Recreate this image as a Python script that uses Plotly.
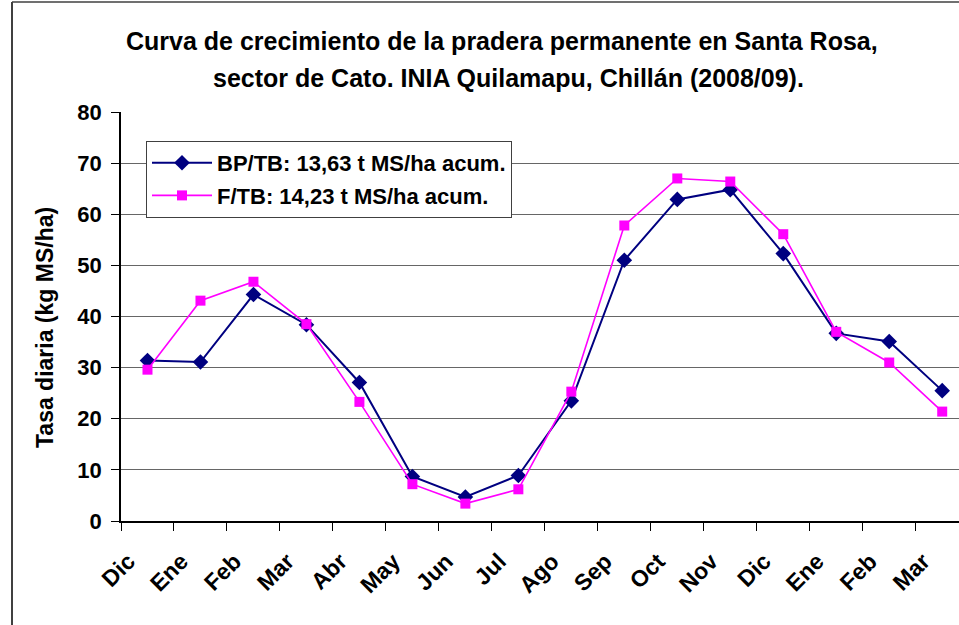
import plotly.graph_objects as go

months = ["Dic", "Ene", "Feb", "Mar", "Abr", "May", "Jun", "Jul",
          "Ago", "Sep", "Oct", "Nov", "Dic", "Ene", "Feb", "Mar"]
bp_tb = [31.4, 31.1, 44.3, 38.4, 27.1, 8.7, 4.7, 8.9,
         23.5, 51.0, 62.9, 64.8, 52.3, 36.7, 35.1, 25.5]
f_tb = [29.6, 43.1, 46.8, 38.5, 23.3, 7.2, 3.4, 6.2,
        25.3, 57.8, 67.0, 66.4, 56.1, 37.0, 31.0, 21.4]
y_ticks = [0, 10, 20, 30, 40, 50, 60, 70, 80]
title_lines = ["Curva de crecimiento de la pradera permanente en Santa Rosa,",
               "sector de Cato. INIA Quilamapu, Chillán (2008/09)."]

x = list(range(len(months)))
FONT = "Liberation Sans, Arial, sans-serif"

fig = go.Figure()
fig.add_trace(go.Scatter(
    x=x, y=bp_tb, mode="lines+markers",
    name="<b>BP/TB: 13,63 t MS/ha acum.</b>", legendgroup="a",
    line=dict(color="#000080", width=2),
    marker=dict(symbol="diamond", size=12, color="#000080"),
))
fig.add_trace(go.Scatter(
    x=x, y=f_tb, mode="lines+markers",
    name="<b>F/TB: 14,23 t MS/ha acum.</b>", legendgroup="b",
    line=dict(color="#FF00FF", width=1.6),
    marker=dict(symbol="square", size=10, color="#FF00FF"),
))

W, H = 959, 625
ml, mr, mt, mb = 121, 0, 112, 104
pw, ph = W - ml - mr, H - mt - mb

def px_to_paper_x(px):
    return (px - ml) / pw

def px_to_paper_y(py):
    return (H - mb - py) / ph

annotations = [dict(
    text="<b>Tasa diaria (kg MS/ha)</b>",
    x=px_to_paper_x(45), y=px_to_paper_y(328), xref="paper", yref="paper",
    xanchor="center", yanchor="middle", textangle=-90, showarrow=False,
    font=dict(size=23, family=FONT, color="black"),
)]
for line, (cx, cy) in zip(title_lines, [(502, 41), (508, 78)]):
    annotations.append(dict(
        text=f"<b>{line}</b>",
        x=px_to_paper_x(cx), y=px_to_paper_y(cy), xref="paper", yref="paper",
        xanchor="center", yanchor="middle", showarrow=False,
        font=dict(size=25, family=FONT, color="black"),
    ))

fig.update_layout(
    width=W, height=H,
    margin=dict(l=ml, r=mr, t=mt, b=mb, pad=0),
    paper_bgcolor="white", plot_bgcolor="white",
    font=dict(family=FONT, color="black"),
    showlegend=True,
    legend=dict(
        x=px_to_paper_x(146), y=px_to_paper_y(141),
        xanchor="left", yanchor="top",
        bgcolor="white", bordercolor="#404040", borderwidth=1,
        font=dict(size=22, family=FONT, color="black"),
        itemwidth=60,
        tracegroupgap=1,
    ),
    xaxis=dict(
        range=[-0.5, (W - 147.2) / 53.0],
        tickmode="array", tickvals=x, ticktext=[f"<b>{m}</b>" for m in months],
        ticks="", tickangle=-45,
        tickfont=dict(size=23, family=FONT, color="black"),
        showgrid=False, zeroline=False,
        showline=True, linecolor="black", linewidth=1.5,
        minor=dict(tickmode="array", tickvals=[i - 0.5 for i in range(len(months) + 1)],
                   ticks="outside", ticklen=8, tickcolor="black", tickwidth=1, showgrid=False),
        ticklabelstandoff=16, ticklabelshift=-19,
    ),
    yaxis=dict(
        range=[0, 80],
        tickmode="array", tickvals=y_ticks, ticktext=[f"<b>{v}</b>" for v in y_ticks],
        ticks="outside", ticklen=8, tickcolor="black",
        tickfont=dict(size=22, family=FONT, color="black"),
        showgrid=True, gridcolor="#666666", gridwidth=1,
        zeroline=False,
        showline=True, linecolor="black", linewidth=1.5,
        ticklabelstandoff=5,
    ),
    annotations=annotations,
    shapes=[
        dict(type="line", xref="paper", yref="paper",
             x0=px_to_paper_x(12), x1=px_to_paper_x(12),
             y0=px_to_paper_y(2), y1=px_to_paper_y(H + 5),
             line=dict(color="black", width=1.5)),
        dict(type="line", xref="paper", yref="paper",
             x0=px_to_paper_x(12), x1=px_to_paper_x(W + 5),
             y0=px_to_paper_y(2), y1=px_to_paper_y(2),
             line=dict(color="#404040", width=1.5)),
    ],
)

fig.write_html("out.html", config={"displayModeBar": False},
               post_script="document.body.style.margin='0';document.body.style.overflow='hidden';")
